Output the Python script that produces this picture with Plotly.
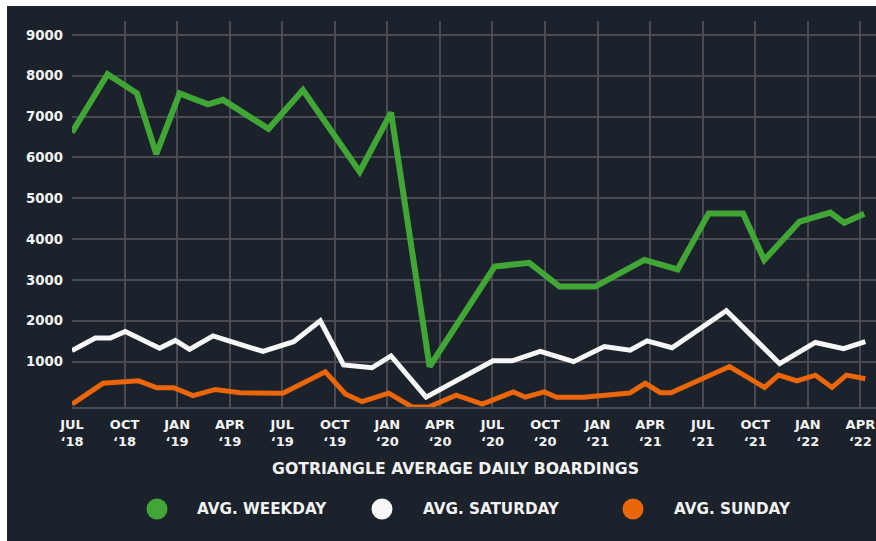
import plotly.graph_objects as go

# x positions are months elapsed since July 2018
weekday_month = [0, 2.03, 3.71, 4.81, 6.14, 7.76, 8.62, 11.22, 13.18, 16.42, 18.21, 20.41,
                 24.12, 26.10, 27.83, 29.87, 32.67, 34.57, 36.34, 38.30, 39.51, 41.53,
                 43.28, 44.08, 45.22]
weekday_riders = [6610, 8040, 7570, 6080, 7570, 7300, 7410, 6700, 7650, 5650, 7100, 880,
                  3330, 3420, 2840, 2840, 3490, 3260, 4630, 4630, 3490, 4430,
                  4650, 4400, 4620]

saturday_month = [0, 1.33, 2.19, 3.04, 5.0, 5.90, 6.71, 8.05, 10.90, 12.65, 14.17, 15.50,
                  17.12, 18.21, 20.21, 24.03, 25.13, 26.73, 28.63, 30.38, 31.86, 32.82,
                  34.25, 37.35, 40.39, 42.43, 44.04, 45.28]
saturday_riders = [1270, 1580, 1580, 1740, 1330, 1520, 1300, 1630, 1250, 1490, 2000, 920,
                   850, 1140, 130, 1020, 1020, 1250, 1000, 1370, 1280, 1510,
                   1340, 2250, 950, 1470, 1320, 1490]

sunday_month = [0, 1.77, 3.80, 4.85, 5.80, 6.91, 8.18, 9.60, 12.04, 14.46, 15.60, 16.55,
                18.07, 19.41, 20.36, 21.93, 23.42, 25.20, 25.87, 26.96, 27.66, 29.20,
                31.83, 32.72, 33.58, 34.19, 37.53, 39.53, 40.33, 41.38, 42.43, 43.38,
                44.20, 45.28]
sunday_riders = [-40, 470, 530, 360, 360, 170, 320, 240, 225, 750, 210, 20,
                 230, -110, -110, 180, -40, 260, 130, 260, 130, 130,
                 230, 470, 240, 240, 880, 370, 670, 530, 670, 370,
                 670, 580]

tick_months = [0, 3, 6, 9, 12, 15, 18, 21, 24, 27, 30, 33, 36, 39, 42, 45]
tick_labels = ["JUL<br>\u201818", "OCT<br>\u201818", "JAN<br>\u201819", "APR<br>\u201819",
               "JUL<br>\u201819", "OCT<br>\u201819", "JAN<br>\u201820", "APR<br>\u201820",
               "JUL<br>\u201820", "OCT<br>\u201820", "JAN<br>\u201821", "APR<br>\u201821",
               "JUL<br>\u201821", "OCT<br>\u201821", "JAN<br>\u201822", "APR<br>\u201822"]
y_ticks = [1000, 2000, 3000, 4000, 5000, 6000, 7000, 8000, 9000]

series_names = ["AVG. WEEKDAY", "AVG. SATURDAY", "AVG. SUNDAY"]
series_colors = ["#41a636", "#f7f7f7", "#ea6609"]

BG = "#1c222b"
GRID = "#4a4b51"
TXT = "#f2f2f2"
FONT = "DejaVu Sans"

fig = go.Figure()
fig.add_trace(go.Scatter(x=saturday_month, y=saturday_riders, mode="lines",
                         line=dict(color=series_colors[1], width=5), name=series_names[1],
                         cliponaxis=False))
fig.add_trace(go.Scatter(x=sunday_month, y=sunday_riders, mode="lines",
                         line=dict(color=series_colors[2], width=5), name=series_names[2],
                         cliponaxis=False))
fig.add_trace(go.Scatter(x=weekday_month, y=weekday_riders, mode="lines",
                         line=dict(color=series_colors[0], width=6), name=series_names[0],
                         cliponaxis=False))

W, H = 876, 541
L, R, T, B = 72, 0, 21, 541 - 407
pw, ph = W - L - R, H - T - B


def px_x(p):
    return (p - L) / pw


def px_y(p):
    return (H - B - p) / ph


shapes = [dict(type="rect", xref="paper", yref="paper", layer="below",
               x0=px_x(7), x1=px_x(W + 5), y0=px_y(H + 5), y1=px_y(6),
               fillcolor=BG, line=dict(width=0))]
annotations = [dict(text="GOTRIANGLE AVERAGE DAILY BOARDINGS", xref="paper", yref="paper",
                    x=px_x(455), y=px_y(469), showarrow=False, xanchor="center", yanchor="middle",
                    font=dict(family=FONT, size=15.7, color=TXT, weight=700))]

circle_x = [157, 382, 633]
text_x = [195, 421, 672]
legend_y = 509
for name, col, cx, tx in zip(series_names, series_colors, circle_x, text_x):
    shapes.append(dict(type="circle", xref="paper", yref="paper", xsizemode="pixel",
                       ysizemode="pixel", xanchor=px_x(cx), yanchor=px_y(legend_y),
                       x0=-10.5, x1=10.5, y0=-10.5, y1=10.5, fillcolor=col,
                       line=dict(width=0)))
    annotations.append(dict(text=name, xref="paper", yref="paper", x=px_x(tx), y=px_y(legend_y),
                            showarrow=False, xanchor="left", yanchor="middle",
                            font=dict(family=FONT, size=15.2, color=TXT, weight=700)))

fig.update_layout(
    width=W, height=H,
    margin=dict(l=L, r=R, t=T, b=B, pad=0),
    paper_bgcolor="white",
    plot_bgcolor=BG,
    showlegend=False,
    hovermode=False,
    shapes=shapes,
    annotations=annotations,
    xaxis=dict(range=[0, pw / 17.52], tickvals=tick_months, ticktext=tick_labels,
               showgrid=True, gridcolor=GRID, gridwidth=2, zeroline=False,
               showline=True, linecolor=GRID, linewidth=2,
               tickfont=dict(family=FONT, size=13, color=TXT, weight=700),
               ticks="", ticklabelstandoff=4, ticklabeloverflow="allow", fixedrange=True),
    yaxis=dict(range=[-110, 9341], tickvals=y_ticks, showgrid=True, gridcolor=GRID,
               gridwidth=2, zeroline=False, showline=False,
               tickfont=dict(family=FONT, size=13.3, color=TXT, weight=700),
               ticks="", ticklabelstandoff=8, fixedrange=True),
)

fig.write_html("out.html", config={"displayModeBar": False},
               post_script="document.body.style.margin='0';document.body.style.overflow='hidden';")
